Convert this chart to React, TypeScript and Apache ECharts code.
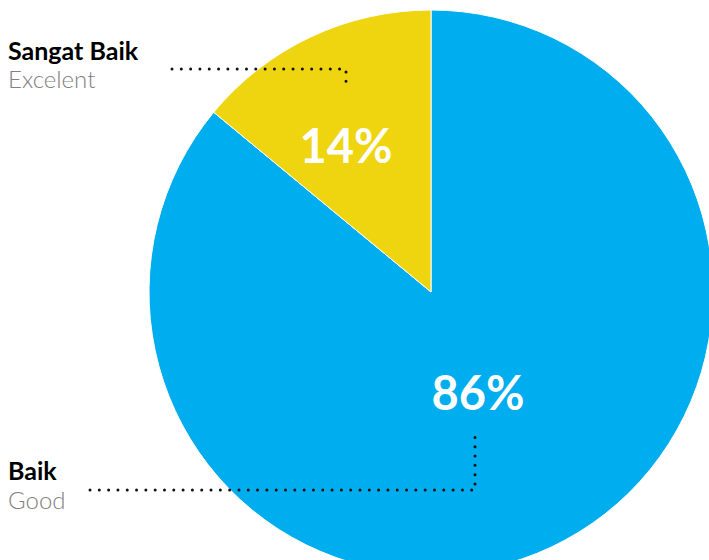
import React, { useEffect, useRef } from "react";
import * as echarts from "echarts";

const categories = ["Baik", "Sangat Baik"];
const englishNames = ["Good", "Excelent"];
const values = [86, 14];
const colors = ["#00ADEE", "#EFD510"];

export default function App() {
  const ref = useRef<HTMLDivElement>(null);
  useEffect(() => {
    const chart = echarts.init(ref.current!, null, { renderer: "svg" });
    const dot = {
      stroke: "#111",
      lineWidth: 3,
      lineDash: [0.01, 9.3],
      lineCap: "round" as const,
    };
    chart.setOption({
      animation: false,
      backgroundColor: "#fff",
      series: [
        {
          type: "pie",
          center: [431, 292],
          radius: [0, 282],
          startAngle: 90,
          clockwise: true,
          silent: true,
          itemStyle: { borderColor: "#fff", borderWidth: 1 },
          label: {
            show: true,
            position: "inside",
            formatter: (p: any) => p.value + "%",
            color: "#fff",
            fontFamily: "Lato",
            fontWeight: "bold",
            fontSize: 47,
          },
          labelLine: { show: false },
          labelLayout: (p: any) => {
            const pos = [
              [478, 392],
              [346, 145],
            ][p.dataIndex];
            return { x: pos[0], y: pos[1], align: "center", verticalAlign: "middle" };
          },
          data: categories.map((c, i) => ({
            name: c,
            value: values[i],
            itemStyle: { color: colors[i] },
          })),
        },
      ],
      graphic: [
        { type: "text", left: 8, top: 37, style: { text: categories[1], font: "bold 25px Lato", fill: "#000" } },
        { type: "text", left: 8, top: 66, style: { text: englishNames[1], font: "300 24px Lato", fill: "#808080" } },
        { type: "text", left: 8, top: 457, style: { text: categories[0], font: "bold 25px Lato", fill: "#000" } },
        { type: "text", left: 8, top: 487, style: { text: englishNames[0], font: "300 24px Lato", fill: "#808080" } },
        { type: "polyline", z: 10, shape: { points: [[172, 69], [346, 69], [346, 82]] }, style: dot },
        { type: "polyline", z: 10, shape: { points: [[90, 490], [475, 490], [475, 430]] }, style: dot },
      ],
    });
    return () => chart.dispose();
  }, []);
  return (
    <div
      ref={ref}
      style={{ position: "fixed", left: 0, top: 0, width: 709, height: 560 }}
    />
  );
}
